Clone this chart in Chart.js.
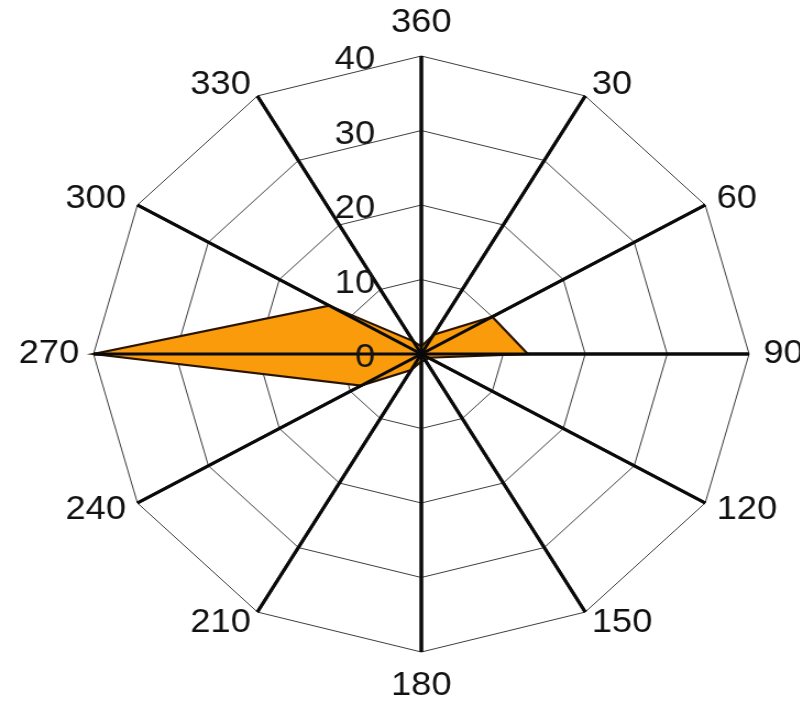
<!DOCTYPE html>
<html>
<head>
<meta charset="utf-8">
<title>Direction rose</title>
<script src="https://cdn.jsdelivr.net/npm/chart.js@4.4.1/dist/chart.umd.min.js"></script>
<style>
  html, body { margin: 0; padding: 0; background: #fff; overflow: hidden; }
  #frame { position: absolute; left: 0; top: 0; width: 800px; height: 702px; overflow: hidden; background: #fff; }
  /* the rose is drawn slightly wider than tall */
  #stretch { position: absolute; left: 0; top: -8px; width: 840px; height: 724px;
             transform-origin: 0 0; transform: scaleX(1.1) translateX(-37px); }
  canvas { display: block; }
</style>
</head>
<body>
<div id="frame">
  <div id="stretch">
    <canvas id="rose" width="840" height="724"></canvas>
  </div>
</div>
<script>
// compass directions (degrees), clockwise from north
const directions = ['360', '30', '60', '90', '120', '150', '180', '210', '240', '270', '300', '330'];
// magnitude per direction
const magnitudes = [1, 3, 10, 13, 1, 1, 1, 2.5, 8.5, 40, 13, 2];
// ring labels on the radial axis
const ringTicks = ['0', '10', '20', '30', '40'];

const FONT_FAMILY = "'Liberation Sans', Arial, Helvetica, sans-serif";
const FONT_SIZE = 33;
const SPOKE_COLOR = '#0a0a0a';
const SPOKE_WIDTH = 3;

Chart.defaults.font.family = FONT_FAMILY;

// gap between the outer ring and each direction label
function labelPadding(ctx) {
  const i = ctx.index;
  if (i === 0 || i === 6) return 33;   // north / south
  if (i === 3 || i === 9) return 13;   // east / west
  return 12;
}

// spokes drawn above the filled area, then the ring values beside the north spoke
const roseOverlay = {
  id: 'roseOverlay',
  afterDatasetsDraw(chart) {
    const r = chart.scales.r;
    const ctx = chart.ctx;
    ctx.save();
    ctx.strokeStyle = SPOKE_COLOR;
    ctx.lineWidth = SPOKE_WIDTH;
    for (let i = 0; i < directions.length; i++) {
      const p = r.getPointPositionForValue(i, r.max);
      ctx.beginPath();
      ctx.moveTo(r.xCenter, r.yCenter);
      ctx.lineTo(p.x, p.y);
      ctx.stroke();
    }
    ctx.font = FONT_SIZE + 'px ' + FONT_FAMILY;
    ctx.fillStyle = '#151515';
    ctx.textAlign = 'right';
    ctx.textBaseline = 'middle';
    ringTicks.forEach(t => {
      const d = r.getDistanceFromCenterForValue(Number(t));
      ctx.fillText(t, r.xCenter - 42, r.yCenter - d + 4);
    });
    ctx.restore();
  }
};

new Chart(document.getElementById('rose'), {
  type: 'radar',
  data: {
    labels: directions,
    datasets: [{
      data: magnitudes,
      backgroundColor: 'rgb(250, 155, 12)',
      borderColor: '#2a1400',
      borderWidth: 2.2,
      pointRadius: 0,
      pointHoverRadius: 0,
      fill: true,
      tension: 0
    }]
  },
  options: {
    responsive: false,
    animation: false,
    events: [],
    layout: { padding: { top: 30, bottom: 30, left: 0, right: 0 } },
    plugins: {
      legend: { display: false },
      tooltip: { enabled: false }
    },
    scales: {
      r: {
        min: 0,
        max: 40,
        beginAtZero: true,
        ticks: { display: false, stepSize: 10 },
        grid: { color: '#3c3c3c', lineWidth: 1 },
        angleLines: { color: SPOKE_COLOR, lineWidth: SPOKE_WIDTH },
        pointLabels: {
          color: '#111',
          padding: labelPadding,
          font: { size: FONT_SIZE, family: FONT_FAMILY, lineHeight: '1px' }
        }
      }
    }
  },
  plugins: [roseOverlay]
});
</script>
</body>
</html>
